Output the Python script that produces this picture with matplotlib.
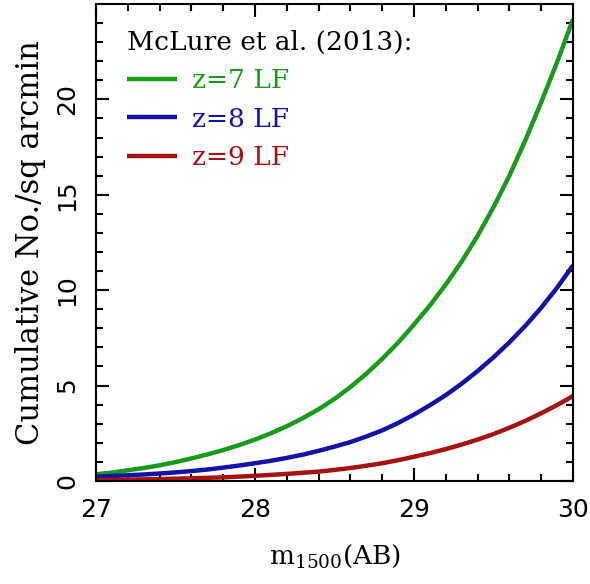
import numpy as np
import matplotlib
matplotlib.use('Agg')
import matplotlib.pyplot as plt
from matplotlib.ticker import MultipleLocator

# apparent magnitude grid (AB) and cumulative counts per sq arcmin
m1500 = [27.0, 27.1, 27.2, 27.3, 27.4, 27.5, 27.6, 27.7, 27.8, 27.9,
         28.0, 28.1, 28.2, 28.3, 28.4, 28.5, 28.6, 28.7, 28.8, 28.9,
         29.0, 29.1, 29.2, 29.3, 29.4, 29.5, 29.6, 29.7, 29.8, 29.9, 30.0]
n_z7 = [0.35, 0.44, 0.56, 0.68, 0.82, 0.99, 1.18, 1.39, 1.62, 1.88,
        2.17, 2.50, 2.87, 3.29, 3.76, 4.30, 4.92, 5.62, 6.40, 7.25,
        8.20, 9.20, 10.30, 11.50, 12.85, 14.35, 16.0, 17.85, 19.85, 21.95, 24.2]
n_z8 = [0.22, 0.26, 0.30, 0.34, 0.39, 0.45, 0.52, 0.60, 0.70, 0.81,
        0.93, 1.06, 1.21, 1.38, 1.58, 1.80, 2.04, 2.33, 2.65, 3.04,
        3.48, 3.97, 4.50, 5.10, 5.76, 6.48, 7.27, 8.13, 9.08, 10.13, 11.3]
n_z9 = [0.05, 0.06, 0.07, 0.085, 0.10, 0.12, 0.14, 0.165, 0.19, 0.23,
        0.27, 0.32, 0.37, 0.43, 0.49, 0.58, 0.68, 0.80, 0.93, 1.09,
        1.27, 1.46, 1.67, 1.91, 2.17, 2.46, 2.79, 3.15, 3.55, 3.98, 4.45]

labels = ['z=7 LF', 'z=8 LF', 'z=9 LF']
colors = ['#1a9a1a', '#1212a6', '#a61212']

serif = 'DejaVu Serif'

fig = plt.figure(figsize=(5.9, 5.84), dpi=100)
ax = fig.add_axes([0.1627, 0.1764, 0.8085, 0.8159])

for ys, lab, col in zip([n_z7, n_z8, n_z9], labels, colors):
    ax.plot(m1500, ys, color=col, lw=3.2, label=lab, solid_capstyle='butt')

ax.set_xlim(27, 30)
ax.set_ylim(0, 24.97)
ax.xaxis.set_major_locator(MultipleLocator(1))
ax.xaxis.set_minor_locator(MultipleLocator(0.2))
ax.yaxis.set_major_locator(MultipleLocator(5))
ax.yaxis.set_minor_locator(MultipleLocator(1))

ax.tick_params(which='both', direction='in', top=True, right=True, width=1.5)
ax.tick_params(which='major', length=9.5, labelsize=18, pad=12)
ax.tick_params(which='minor', length=5)
ax.tick_params(axis='y', labelrotation=90)
for lab in ax.get_yticklabels():
    lab.set_va('center')
for sp in ax.spines.values():
    sp.set_linewidth(1.5)

ax.set_xlabel(r'm$_{\mathregular{1500}}$(AB)', family=serif, fontsize=19, labelpad=15)
ax.set_ylabel('Cumulative No./sq arcmin', family=serif, fontsize=22, labelpad=7)

leg = ax.legend(loc='upper left', bbox_to_anchor=(0.054, 0.957), borderaxespad=0,
                frameon=False, title='McLure et al. (2013):',
                title_fontproperties={'family': serif, 'size': 19},
                prop={'family': serif, 'size': 19}, labelcolor='linecolor',
                handlelength=1.9, handletextpad=0.55, labelspacing=0.5,
                borderpad=0.2, alignment='left')

fig.savefig('out.png', dpi=100)
